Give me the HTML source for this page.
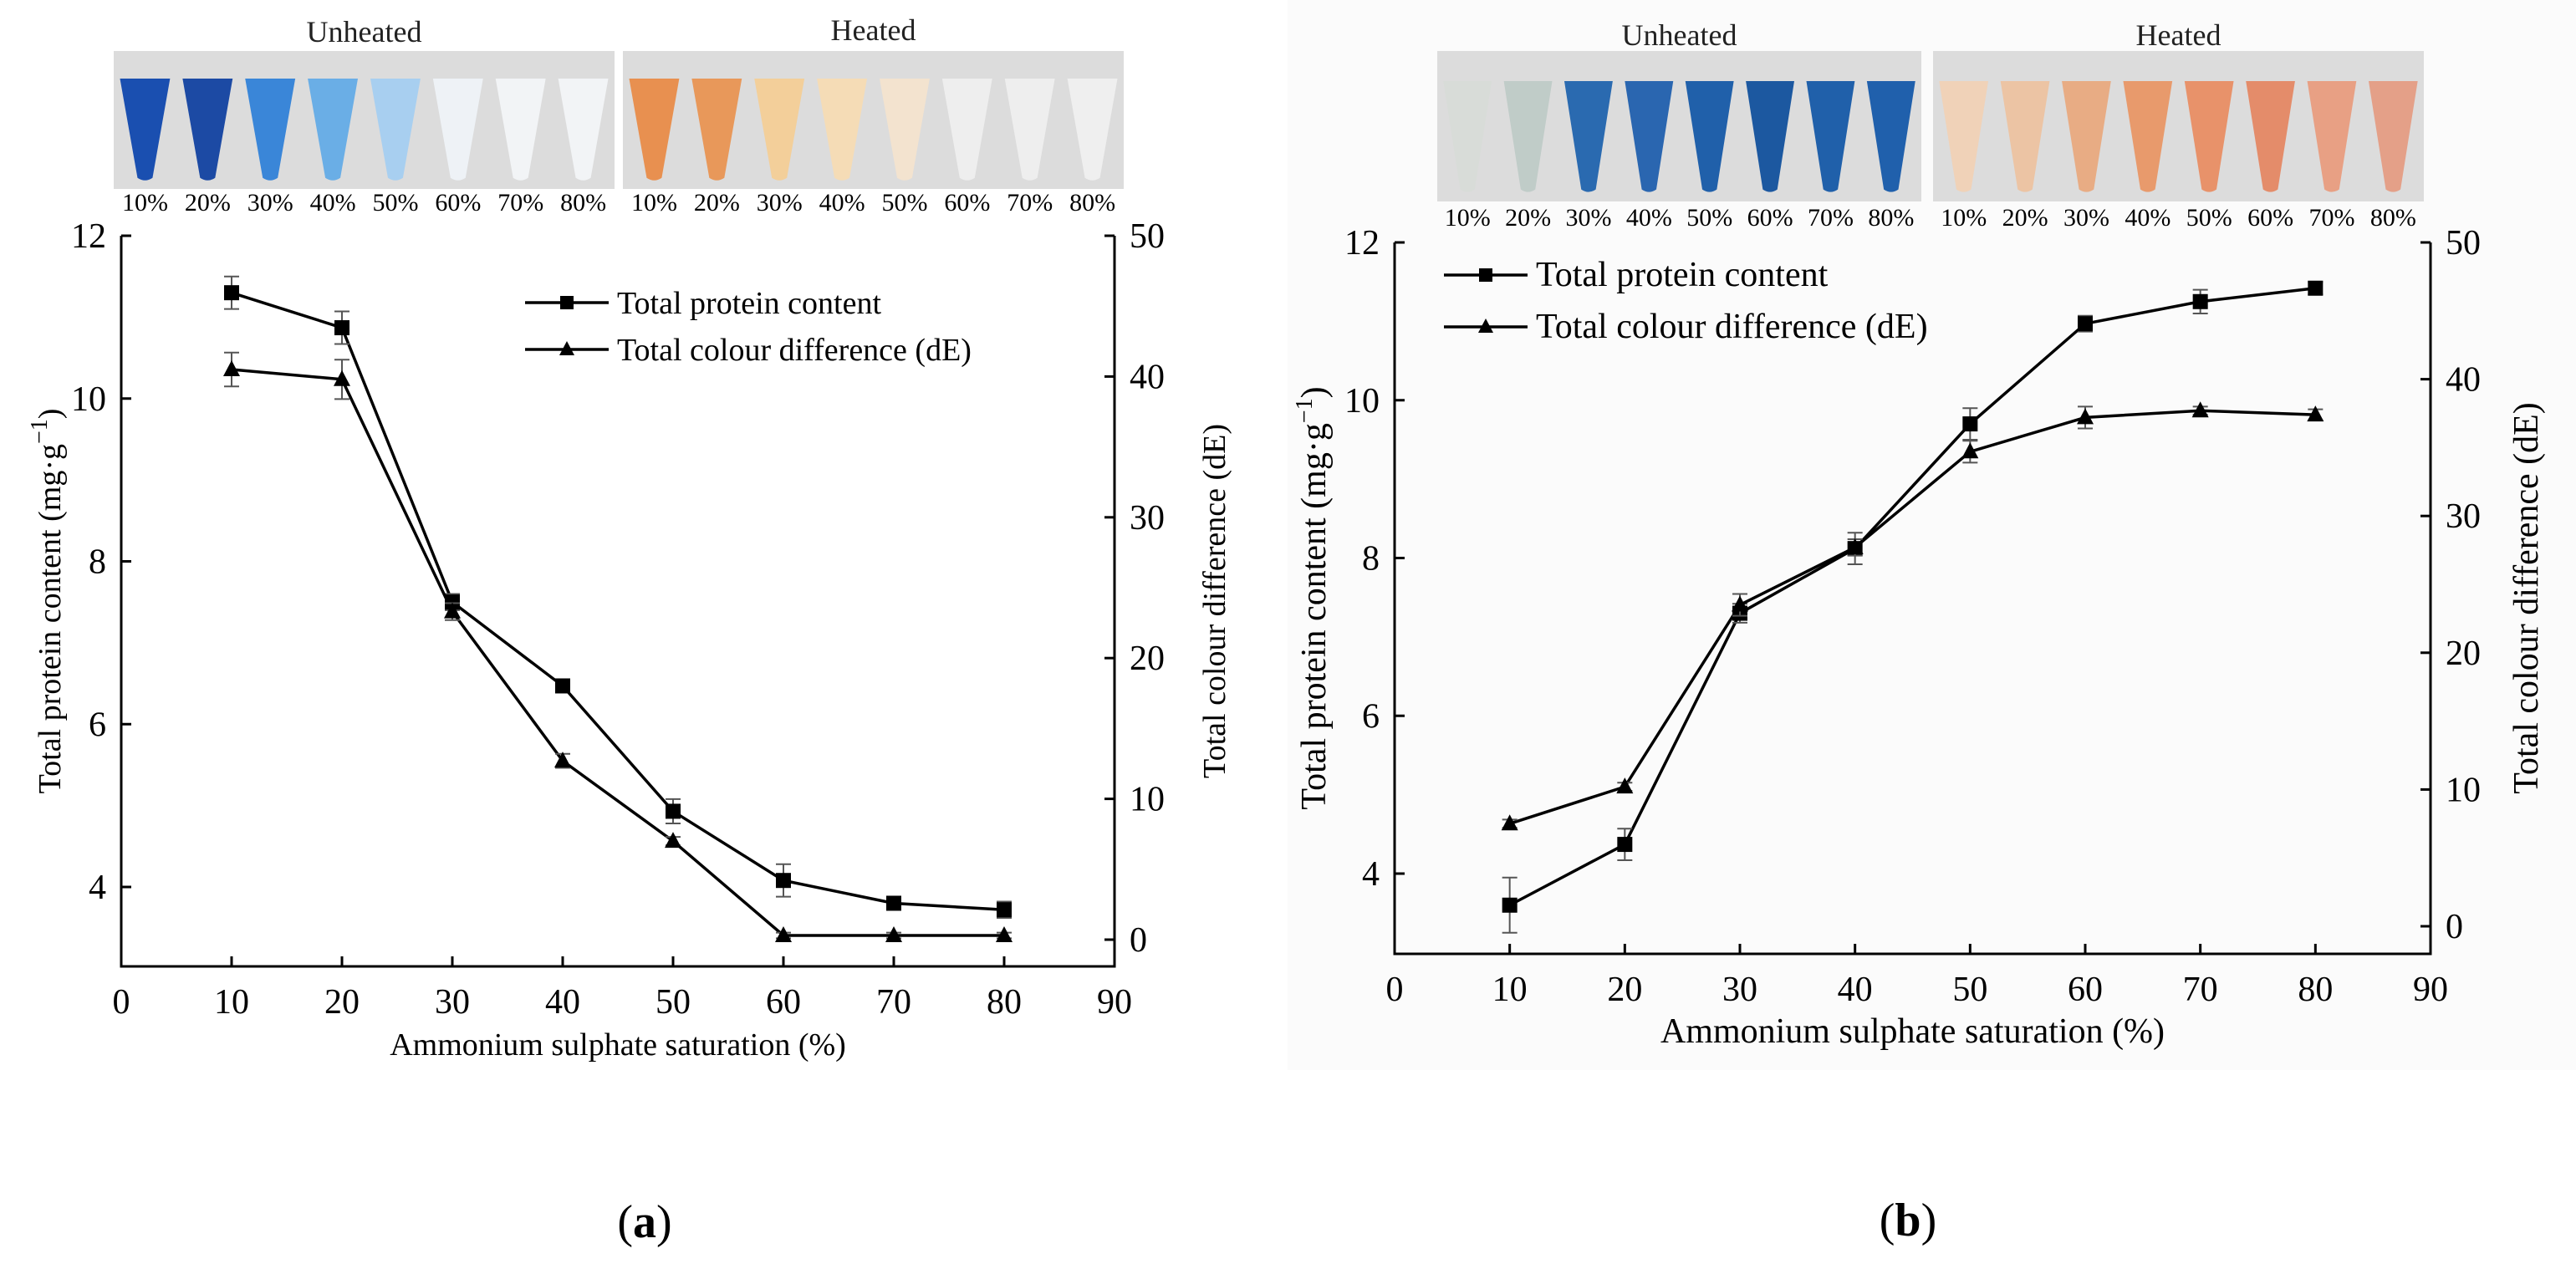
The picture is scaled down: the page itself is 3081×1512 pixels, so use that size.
<!DOCTYPE html>
<html><head><meta charset="utf-8"><style>
html,body{margin:0;padding:0;background:#fff}
svg{display:block;font-family:"Liberation Serif",serif}
</style></head><body>
<svg id="fig" width="3081" height="1512" viewBox="0 0 3081 1512" xmlns="http://www.w3.org/2000/svg">
<rect x="0" y="0" width="3081" height="1512" fill="#fff"/>
<rect x="1540" y="0" width="1541" height="1280" fill="#fbfbfb"/>
<text x="771" y="1480" font-size="56" text-anchor="middle">(<tspan font-weight="bold">a</tspan>)</text>
<text x="2282" y="1478" font-size="56" text-anchor="middle">(<tspan font-weight="bold">b</tspan>)</text>
</svg>
<script>
const NS='http://www.w3.org/2000/svg';
const svg=document.getElementById('fig');
const categories=[10,20,30,40,50,60,70,80];
const xTicks=[0,10,20,30,40,50,60,70,80,90];
const leftTicks=[4,6,8,10,12];
const rightTicks=[0,10,20,30,40,50];
const tubeLabels=['10%','20%','30%','40%','50%','60%','70%','80%'];
const proteinA=[11.3,10.87,7.5,6.47,4.93,4.08,3.8,3.72];
const proteinErrA=[0.2,0.2,0.1,0.05,0.15,0.2,0.08,0.1];
const colourA=[40.5,39.8,23.3,12.7,7.0,0.3,0.3,0.3];
const colourErrA=[1.2,1.4,0.6,0.5,0.3,0.2,0.2,0.2];
const proteinB=[3.6,4.37,7.3,8.12,9.7,10.97,11.25,11.42];
const proteinErrB=[0.35,0.2,0.12,0.2,0.2,0.1,0.15,0.08];
const colourB=[7.5,10.2,23.5,27.7,34.7,37.2,37.7,37.4];
const colourErrB=[0.3,0.3,0.8,0.6,0.8,0.8,0.3,0.4];
const tubesA1=['#1a4fb0','#1c4aa4','#3a86d8','#6aaee6','#a8cff0','#eef2f6','#f2f4f6','#f2f4f6'];
const tubesA2=['#e89050','#e8985a','#f3cf9a','#f5dcb6','#f3e3cf','#eeeeee','#eeeeee','#efefef'];
const tubesB1=['#d8dcd8','#c0ccc8','#2a6ab0','#2a66b0','#2060aa','#1c58a0','#2060aa','#2060ac'];
const tubesB2=['#f0d2b8','#ecc4a4','#e8ac84','#e89a6c','#e8926a','#e48c6a','#e8a084','#e4a088'];

function mk(tag,attrs,parent){const e=document.createElementNS(NS,tag);for(const k in attrs)e.setAttribute(k,attrs[k]);(parent||svg).appendChild(e);return e;}

function strip(x0,x1,y0,y1,colors,labelY,title,titleY,name){
  const g=mk('g',{});
  
  
  mk('rect',{x:x0,y:y0,width:x1-x0,height:y1-y0,fill:'#dcdcdc'},g);
  const w=(x1-x0)/8;
  colors.forEach((c,i)=>{
    const cx=x0+w*(i+0.5),tw=w*0.8,top=y0+(y1-y0)*0.2,bot=y1-(y1-y0)*0.08;
    const p=mk('path',{d:`M${cx-tw/2},${top} L${cx+tw/2},${top} L${cx+tw*0.15},${bot} Q${cx},${bot+6} ${cx-tw*0.15},${bot} Z`,fill:c},g);
    
    
    const t=mk('text',{x:cx,y:labelY,'font-size':30,'text-anchor':'middle'},g);
    t.textContent=tubeLabels[i];
    
    
  });
  const tt=mk('text',{x:(x0+x1)/2,y:titleY,'font-size':36,'text-anchor':'middle',fill:'#222'},g);
  tt.textContent=title;
  
  
}

function chart(o){
  const g=mk('g',{});
  
  
  const X=v=>o.x0+(o.x90-o.x0)*v/90;
  const YL=v=>o.y12+(o.y4-o.y12)*(12-v)/8;
  const YR=v=>o.r0+(o.r50-o.r0)*v/50;
  const fs=42;
  const axis=mk('path',{d:`M${X(0)},${o.y12} V${o.bottom} H${X(90)} V${o.y12}`,fill:'none',stroke:'#000','stroke-width':3},g);
  
  
  xTicks.forEach(v=>{
    mk('line',{x1:X(v),x2:X(v),y1:o.bottom,y2:o.bottom-12,stroke:'#000','stroke-width':3},g);
    const t=mk('text',{x:X(v),y:o.bottom+56,'font-size':fs,'text-anchor':'middle'},g);
    t.textContent=v;
    
    
  });
  leftTicks.forEach(v=>{
    mk('line',{x1:X(0),x2:X(0)+12,y1:YL(v),y2:YL(v),stroke:'#000','stroke-width':3},g);
    const t=mk('text',{x:X(0)-18,y:YL(v)+14,'font-size':fs,'text-anchor':'end'},g);
    t.textContent=v;
    
    
  });
  rightTicks.forEach(v=>{
    mk('line',{x1:X(90),x2:X(90)-12,y1:YR(v),y2:YR(v),stroke:'#000','stroke-width':3},g);
    const t=mk('text',{x:X(90)+18,y:YR(v)+14,'font-size':fs,'text-anchor':'start'},g);
    t.textContent=v;
    
    
  });
  const xt=mk('text',{x:(X(0)+X(90))/2,y:o.bottom+106,'font-size':o.tfs,'text-anchor':'middle'},g);
  xt.textContent='Ammonium sulphate saturation (%)';
  
  
  const ym=(o.y12+o.bottom)/2;
  const yt=mk('text',{x:0,y:0,'font-size':o.tfs,'text-anchor':'middle',transform:`translate(${o.ylx},${ym}) rotate(-90)`},g);
  yt.innerHTML='Total protein content (mg·g<tspan dy="-16" font-size="28">−1</tspan><tspan dy="16">)</tspan>';
  
  
  const yr=mk('text',{x:0,y:0,'font-size':o.tfs,'text-anchor':'middle',transform:`translate(${o.yrx},${ym}) rotate(-90)`},g);
  yr.textContent='Total colour difference (dE)';
  
  
  function series(vals,errs,Y,marker,name){
    const pts=categories.map((c,i)=>[X(c),Y(vals[i])]);
    const l=mk('polyline',{points:pts.map(p=>p.join(',')).join(' '),fill:'none',stroke:'#000','stroke-width':3.5},g);
    
    
    categories.forEach((c,i)=>{
      const x=X(c),yt=Y(vals[i]+errs[i]),yb=Y(vals[i]-errs[i]);
      const e=mk('path',{d:`M${x},${yt} V${yb} M${x-9},${yt} H${x+9} M${x-9},${yb} H${x+9}`,stroke:'#555','stroke-width':2,fill:'none'},g);
      
      
      const y=Y(vals[i]);
      const m=marker==='sq'?mk('rect',{x:x-9,y:y-9,width:18,height:18,fill:'#000'},g):mk('path',{d:`M${x},${y-11} L${x+10},${y+8} L${x-10},${y+8} Z`,fill:'#000'},g);
      
      
    });
  }
  series(o.p,o.pe,YL,'sq','protein');
  series(o.c,o.ce,YR,'tri','colour');
  [['sq','Total protein content'],['tri','Total colour difference (dE)']].forEach((L,i)=>{
    const y=o.legY+i*o.legDy;
    const lg=mk('g',{},g);
    
    
    mk('line',{x1:o.legX,x2:o.legX+100,y1:y,y2:y,stroke:'#000','stroke-width':3.5},lg);
    const cx=o.legX+50;
    if(L[0]==='sq')mk('rect',{x:cx-8,y:y-8,width:16,height:16,fill:'#000'},lg);
    else mk('path',{d:`M${cx},${y-10} L${cx+9},${y+7} L${cx-9},${y+7} Z`,fill:'#000'},lg);
    const t=mk('text',{x:o.legX+110,y:y+13,'font-size':o.legFs},lg);
    t.textContent=L[1];
  });
}

strip(136,735,61,226,tubesA1,252,'Unheated',50,'unheated-strip-a');
strip(745,1344,61,226,tubesA2,252,'Heated',48,'heated-strip-a');
strip(1719,2298,61,241,tubesB1,270,'Unheated',54,'unheated-strip-b');
strip(2312,2899,61,241,tubesB2,270,'Heated',54,'heated-strip-b');

chart({name:'chart-a',x0:145,x90:1333,y12:282,y4:1061,bottom:1156,r50:282,r0:1124,tfs:38,
  p:proteinA,pe:proteinErrA,c:colourA,ce:colourErrA,ylx:72,yrx:1465,legX:628,legY:362,legDy:56,legFs:38});
chart({name:'chart-b',x0:1668,x90:2907,y12:290,y4:1045,bottom:1141,r50:290,r0:1108,tfs:42,
  p:proteinB,pe:proteinErrB,c:colourB,ce:colourErrB,ylx:1585,yrx:3035,legX:1727,legY:329,legDy:62,legFs:42});
</script>
</body></html>
